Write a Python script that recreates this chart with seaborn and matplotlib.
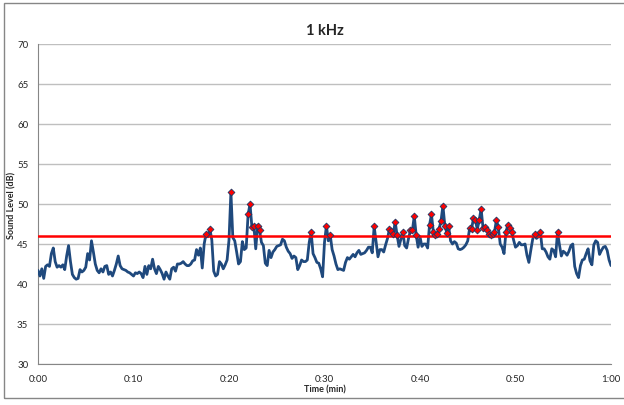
import numpy as np
import pandas as pd
import matplotlib
matplotlib.use("Agg")
import matplotlib.pyplot as plt
import seaborn as sns
from matplotlib.patches import Rectangle

# Sound level (dB) read every 0.2 min, in 10-minute blocks
level_00_10 = [41.7, 41.0, 41.9, 40.7, 42.2, 42.4, 42.2, 43.8, 44.5, 42.8,
               42.1, 42.3, 42.1, 42.4, 41.8, 43.5, 44.8, 42.8, 41.2, 40.8,
               40.6, 40.7, 41.8, 41.5, 41.7, 42.1, 43.8, 43.0, 45.4, 44.0,
               42.5, 41.7, 41.4, 41.9, 41.5, 42.2, 42.3, 41.2, 41.5, 41.0,
               41.7, 42.5, 43.5, 42.3, 41.9, 41.8, 41.7, 41.5, 41.4, 41.2]
level_10_20 = [41.0, 41.4, 41.3, 41.5, 41.3, 40.8, 42.2, 41.2, 42.3, 41.9,
               43.1, 41.9, 41.3, 42.2, 41.8, 41.3, 40.6, 41.5, 41.0, 40.6,
               41.9, 42.1, 41.6, 42.5, 42.5, 42.6, 42.8, 42.5, 42.3, 42.3,
               42.5, 42.9, 43.0, 44.3, 43.6, 44.5, 42.0, 45.0, 46.3, 45.9,
               46.9, 45.5, 41.6, 41.0, 41.2, 42.8, 42.5, 41.9, 42.4, 43.0]
level_20_30 = [45.5, 51.5, 45.8, 45.4, 44.0, 42.5, 42.8, 45.3, 44.3, 44.5,
               48.7, 50.0, 47.1, 47.3, 44.4, 47.3, 46.7, 45.2, 44.8, 42.6,
               42.3, 44.2, 43.3, 44.0, 44.3, 44.7, 44.8, 44.9, 45.6, 45.4,
               44.6, 44.1, 43.8, 43.2, 43.5, 43.3, 41.8, 42.3, 43.0, 42.8,
               42.8, 43.0, 45.2, 46.5, 43.8, 43.3, 42.7, 42.6, 41.9, 40.9]
level_30_40 = [45.2, 47.3, 45.4, 46.1, 44.3, 43.5, 42.5, 41.8, 41.9, 41.8,
               41.7, 42.7, 43.3, 43.1, 43.4, 43.7, 43.4, 43.9, 44.2, 43.7,
               43.8, 43.9, 44.2, 44.6, 44.6, 43.9, 47.2, 45.3, 43.4, 44.3,
               44.3, 44.0, 44.9, 45.7, 46.9, 46.6, 46.2, 47.8, 46.1, 44.7,
               45.6, 46.5, 44.8, 44.5, 45.7, 46.7, 46.7, 48.5, 46.1, 44.6]
level_40_50 = [45.9, 44.7, 45.0, 45.0, 44.5, 47.4, 48.7, 46.5, 46.1, 46.3,
               46.9, 47.9, 49.8, 47.3, 46.4, 47.2, 45.4, 45.0, 45.3, 45.1,
               44.4, 44.3, 44.4, 44.6, 44.9, 45.4, 47.0, 46.9, 48.2, 48.0,
               46.8, 48.0, 49.4, 47.0, 47.1, 46.8, 46.3, 46.1, 46.3, 46.5,
               48.0, 47.1, 45.0, 44.6, 43.8, 46.5, 47.4, 47.0, 46.5, 45.5]
level_50_60 = [44.6, 44.8, 45.2, 44.9, 44.9, 45.0, 43.6, 42.7, 44.2, 45.6,
               46.2, 45.7, 45.9, 46.5, 44.4, 44.4, 44.0, 43.4, 43.1, 44.4,
               44.2, 43.4, 46.5, 44.9, 43.5, 44.1, 43.9, 43.6, 44.1, 44.8,
               45.0, 42.2, 41.3, 40.8, 42.3, 43.0, 43.1, 43.8, 44.4, 42.9,
               42.4, 44.9, 45.4, 45.2, 43.7, 44.2, 44.6, 44.7, 44.2, 43.0,
               42.3]

threshold = 46
x_ticks = [0, 10, 20, 30, 40, 50, 60]
x_labels = ["0:00", "0:10", "0:20", "0:30", "0:40", "0:50", "1:00"]
y_ticks = [30, 35, 40, 45, 50, 55, 60, 65, 70]

level = level_00_10 + level_10_20 + level_20_30 + level_30_40 + level_40_50 + level_50_60
time_min = np.round(np.arange(len(level)) * 0.2, 1)
df = pd.DataFrame({"Time": time_min, "Level": level})
over = df[df["Level"] > threshold]

sns.set_style("white")
plt.rcParams['font.family'] = ['Lato', 'DejaVu Sans']

fig = plt.figure(figsize=(6.24, 4.06), dpi=100)
ax = fig.add_axes([38 / 624, 41 / 406, 573 / 624, 320 / 406])

sns.lineplot(data=df, x="Time", y="Level", ax=ax, color="#1F497D", lw=2.0, zorder=3)
ax.axhline(threshold, color="#FF0000", lw=1.8, zorder=4)
sns.scatterplot(data=over, x="Time", y="Level", ax=ax, marker="D", s=12,
                color="#FF0000", edgecolor="#1F3864", linewidth=0.6, zorder=5)

ax.set_xlim(0, 60)
ax.set_ylim(30, 70)
ax.set_xticks(x_ticks)
ax.set_xticklabels(x_labels)
ax.set_yticks(y_ticks)
ax.yaxis.grid(True, color="#BFBFBF", lw=1)
ax.xaxis.grid(False)
for s in ["top", "right"]:
    ax.spines[s].set_visible(False)
for s in ["left", "bottom"]:
    ax.spines[s].set_color("#868686")
ax.tick_params(direction="out", length=4, width=1, color="#868686",
               labelsize=7, pad=3)
ax.set_xlabel("")
ax.set_ylabel("")

fig.text(325 / 624, 1 - 31 / 406, "1 kHz", ha="center", va="center",
         fontsize=10.5, weight="bold")
fig.text(325 / 624, 1 - 390 / 406, "Time (min)", ha="center", va="center",
         fontsize=6.5, weight="bold")
fig.text(12 / 624, 1 - 205 / 406, "Sound Level (dB)", ha="center", va="center",
         fontsize=6.5, weight="bold", rotation=90)

# chart area border
fig.add_artist(Rectangle((4 / 624, 1 - 399 / 406), 640 / 624, 395 / 406,
                         transform=fig.transFigure, fill=False,
                         edgecolor="#868686", lw=1))

fig.savefig("out.png", dpi=100)
